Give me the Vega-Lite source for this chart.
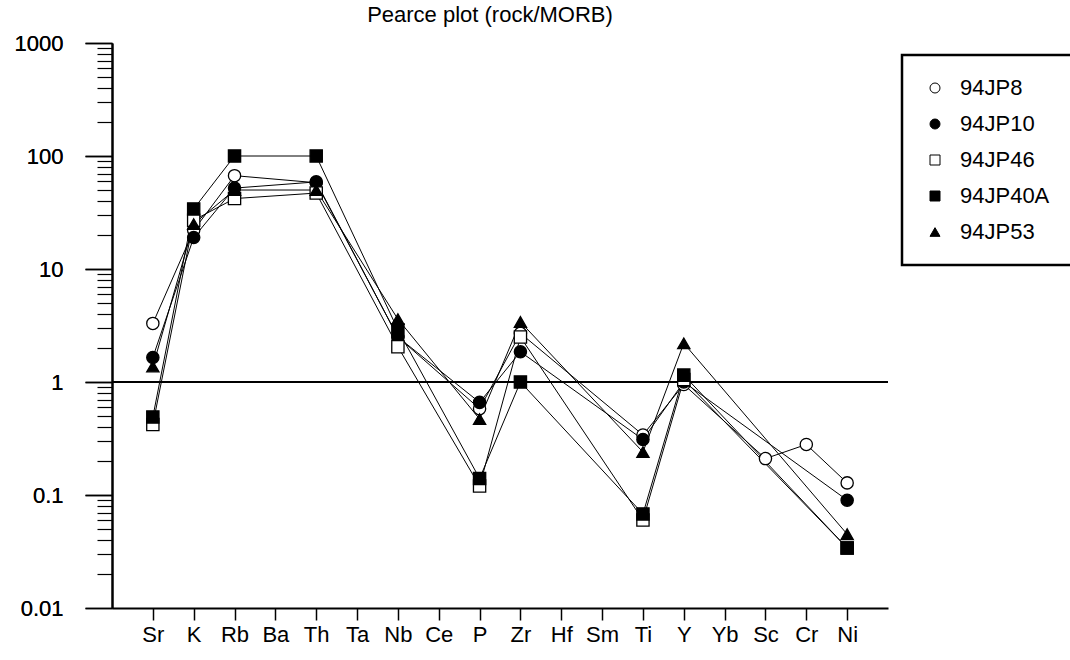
{
  "$schema": "https://vega.github.io/schema/vega-lite/v6.json",
  "autosize": "none",
  "width": 776,
  "height": 565,
  "padding": {"left": 112, "top": 43, "right": 182, "bottom": 52},
  "background": "white",
  "config": {
    "font": "Liberation Sans",
    "view": {"stroke": null},
    "axis": {"labelFont": "Liberation Sans", "labelColor": "black", "domainColor": "black", "tickColor": "black", "grid": false, "title": null},
    "legend": {"strokeWidth": 2.5, "strokeColor": "black", "symbolStrokeColor": "black", "symbolStrokeWidth": 1}
  },
  "title": {"text": "Pearce plot (rock/MORB)", "fontSize": 22, "fontWeight": "normal", "font": "Liberation Sans", "color": "black", "anchor": "middle", "offset": 5, "dx": -10},
  "data": {"values": [
    {"s": "94JP8", "el": "Sr", "v": 3.3},
    {"s": "94JP8", "el": "K", "v": 22},
    {"s": "94JP8", "el": "Rb", "v": 67},
    {"s": "94JP8", "el": "Th", "v": 58},
    {"s": "94JP8", "el": "Nb", "v": 2.5},
    {"s": "94JP8", "el": "P", "v": 0.58},
    {"s": "94JP8", "el": "Zr", "v": 2.7},
    {"s": "94JP8", "el": "Ti", "v": 0.34},
    {"s": "94JP8", "el": "Y", "v": 0.95},
    {"s": "94JP8", "el": "Sc", "v": 0.21},
    {"s": "94JP8", "el": "Cr", "v": 0.28},
    {"s": "94JP8", "el": "Ni", "v": 0.128},
    {"s": "94JP10", "el": "Sr", "v": 1.65},
    {"s": "94JP10", "el": "K", "v": 19},
    {"s": "94JP10", "el": "Rb", "v": 52},
    {"s": "94JP10", "el": "Th", "v": 59},
    {"s": "94JP10", "el": "Nb", "v": 2.5},
    {"s": "94JP10", "el": "P", "v": 0.66},
    {"s": "94JP10", "el": "Zr", "v": 1.85},
    {"s": "94JP10", "el": "Ti", "v": 0.31},
    {"s": "94JP10", "el": "Y", "v": 1.0},
    {"s": "94JP10", "el": "Ni", "v": 0.09},
    {"s": "94JP46", "el": "Sr", "v": 0.42},
    {"s": "94JP46", "el": "K", "v": 27},
    {"s": "94JP46", "el": "Rb", "v": 42},
    {"s": "94JP46", "el": "Th", "v": 47},
    {"s": "94JP46", "el": "Nb", "v": 2.05},
    {"s": "94JP46", "el": "P", "v": 0.12},
    {"s": "94JP46", "el": "Zr", "v": 2.5},
    {"s": "94JP46", "el": "Ti", "v": 0.06},
    {"s": "94JP46", "el": "Y", "v": 1.05},
    {"s": "94JP46", "el": "Ni", "v": 0.034},
    {"s": "94JP40A", "el": "Sr", "v": 0.49},
    {"s": "94JP40A", "el": "K", "v": 34},
    {"s": "94JP40A", "el": "Rb", "v": 100},
    {"s": "94JP40A", "el": "Th", "v": 100},
    {"s": "94JP40A", "el": "Nb", "v": 2.9},
    {"s": "94JP40A", "el": "P", "v": 0.14},
    {"s": "94JP40A", "el": "Zr", "v": 1.0},
    {"s": "94JP40A", "el": "Ti", "v": 0.068},
    {"s": "94JP40A", "el": "Y", "v": 1.15},
    {"s": "94JP40A", "el": "Ni", "v": 0.034},
    {"s": "94JP53", "el": "Sr", "v": 1.37},
    {"s": "94JP53", "el": "K", "v": 25},
    {"s": "94JP53", "el": "Rb", "v": 50},
    {"s": "94JP53", "el": "Th", "v": 50},
    {"s": "94JP53", "el": "Nb", "v": 3.6},
    {"s": "94JP53", "el": "P", "v": 0.47},
    {"s": "94JP53", "el": "Zr", "v": 3.4},
    {"s": "94JP53", "el": "Ti", "v": 0.24},
    {"s": "94JP53", "el": "Y", "v": 2.2},
    {"s": "94JP53", "el": "Ni", "v": 0.045}
  ]},
  "encoding": {
    "x": {"field": "el", "type": "ordinal",
      "scale": {"type": "point", "padding": 1, "domain": ["Sr","K","Rb","Ba","Th","Ta","Nb","Ce","P","Zr","Hf","Sm","Ti","Y","Yb","Sc","Cr","Ni"]},
      "axis": {"labelAngle": 0, "labelFontSize": 22, "labelPadding": 4, "tickSize": 12, "tickWidth": 1.5, "domainWidth": 2, "title": null}},
    "y": {"field": "v", "type": "quantitative",
      "scale": {"type": "log", "domain": [0.01, 1000], "nice": false},
      "axis": {"values": [0.01, 0.1, 1, 10, 100, 1000], "format": "~g", "labelFontSize": 22, "labelPadding": 22, "tickSize": 27, "tickWidth": 1.5, "domainWidth": 2, "orient": "left", "title": null}}
  },
  "layer": [
    {
      "mark": {"type": "rule", "color": "black", "strokeWidth": 1.5},
      "encoding": {
        "x": null,
        "y": {"datum": 1, "type": "quantitative",
          "axis": {"values": [0.02,0.03,0.04,0.05,0.06,0.07,0.08,0.09,0.2,0.3,0.4,0.5,0.6,0.7,0.8,0.9,2,3,4,5,6,7,8,9,20,30,40,50,60,70,80,90,200,300,400,500,600,700,800,900], "labels": false, "domain": false, "tickSize": 15, "tickWidth": 1.2, "orient": "left", "title": null}}
      }
    },
    {
      "mark": {"type": "line", "color": "black", "strokeWidth": 1},
      "encoding": {"detail": {"field": "s"}, "order": {"value": null}}
    },
    {
      "mark": {"type": "point", "filled": true, "strokeWidth": 1.3, "size": 150, "opacity": 1},
      "encoding": {
        "shape": {"field": "s", "type": "nominal",
          "scale": {"domain": ["94JP8","94JP10","94JP46","94JP40A","94JP53"], "range": ["circle","circle","square","square","triangle-up"]},
          "legend": {"title": null, "orient": "none", "legendX": 790, "legendY": 12, "labelFontSize": 22, "labelColor": "black", "symbolSize": 100, "symbolStrokeWidth": 1, "rowPadding": 14, "padding": 22, "labelOffset": 14, "strokeColor": "black"}},
        "fill": {"field": "s", "type": "nominal",
          "scale": {"domain": ["94JP8","94JP10","94JP46","94JP40A","94JP53"], "range": ["white","black","white","black","black"]},
          "legend": {"title": null, "orient": "none", "legendX": 790, "legendY": 12, "labelFontSize": 22, "labelColor": "black", "symbolSize": 100, "symbolStrokeWidth": 1, "rowPadding": 14, "padding": 22, "labelOffset": 14, "strokeColor": "black"}},
        "stroke": {"field": "s", "type": "nominal",
          "scale": {"domain": ["94JP8","94JP10","94JP46","94JP40A","94JP53"], "range": ["black","black","black","black","black"]},
          "legend": {"title": null, "orient": "none", "legendX": 790, "legendY": 12, "labelFontSize": 22, "labelColor": "black", "symbolSize": 100, "symbolStrokeWidth": 1, "rowPadding": 14, "padding": 22, "labelOffset": 14, "strokeColor": "black"}}
      }
    }
  ],
  "resolve": {"axis": {"y": "independent"}}
}
